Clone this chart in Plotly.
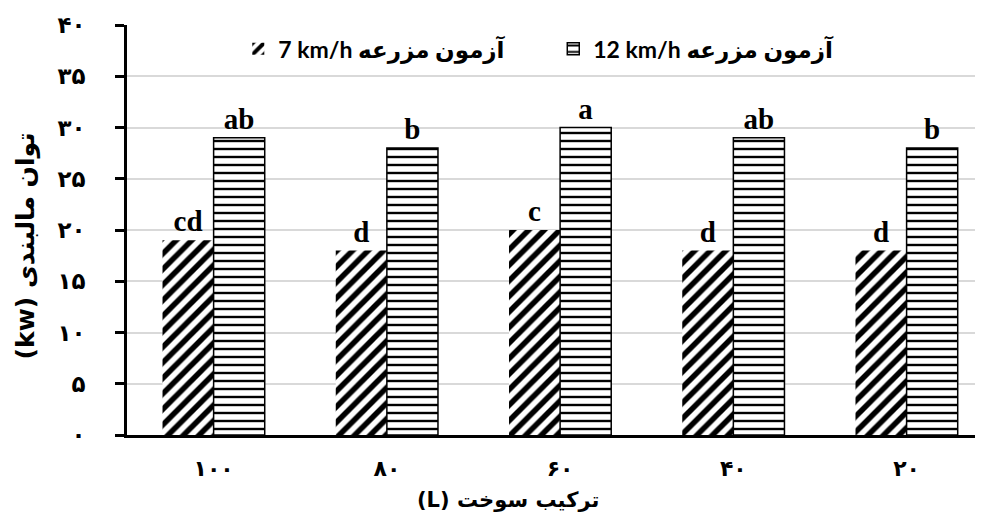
import plotly.graph_objects as go

categories = ["۱۰۰", "۸۰", "۶۰", "۴۰", "۲۰"]
values_7 = [19, 18, 20, 18, 18]
values_12 = [29, 28, 30, 29, 28]
letters_7 = ["cd", "d", "c", "d", "d"]
letters_12 = ["ab", "b", "a", "ab", "b"]
y_ticks = [0, 5, 10, 15, 20, 25, 30, 35, 40]
y_tick_labels = ["۰", "۵", "۱۰", "۱۵", "۲۰", "۲۵", "۳۰", "۳۵", "۴۰"]
name_7 = "7 km/h آزمون مزرعه"
name_12 = "12 km/h آزمون مزرعه"
x_title = "(L) ترکیب سوخت"
y_title = "(kw) توان مالبندی"

AR_FONT = "DejaVu Sans, Noto Sans, sans-serif"
LETTER_FONT = dict(family="Liberation Serif, serif", size=29, color="black", weight="bold")

fig = go.Figure()
fig.add_trace(go.Bar(
    x=categories, y=values_7, name=name_7,
    text=letters_7, textposition="outside", textfont=LETTER_FONT,
    cliponaxis=False, constraintext="none",
    marker=dict(color="white", line=dict(width=0),
                pattern=dict(shape="/", fgcolor="black", bgcolor="white", fgopacity=1,
                             size=11, solidity=0.5)),
))
fig.add_trace(go.Bar(
    x=categories, y=values_12, name=name_12,
    text=letters_12, textposition="outside", textfont=LETTER_FONT,
    cliponaxis=False, constraintext="none",
    marker=dict(color="white", line=dict(width=1.5, color="black"),
                pattern=dict(shape="-", fgcolor="black", bgcolor="white", fgopacity=1,
                             size=8, solidity=0.3)),
))

fig.update_layout(
    width=975, height=513,
    margin=dict(l=119, r=0, t=17, b=86),
    paper_bgcolor="white", plot_bgcolor="white",
    barmode="group", bargap=0.41, bargroupgap=0,
    showlegend=True,
    legend=dict(orientation="h", x=0.13, y=0.942, xanchor="left", yanchor="middle",
                font=dict(family="Lato, " + AR_FONT, size=23, color="black", weight="bold"),
                bgcolor="rgba(0,0,0,0)", entrywidth=270, entrywidthmode="pixels",
                traceorder="normal"),
    xaxis=dict(
        type="category", range=[-0.5, 4.441],
        showline=True, linecolor="black", linewidth=3,
        ticks="", showgrid=False,
        tickfont=dict(family=AR_FONT, size=22, color="black", weight="bold"),
        ticklabelstandoff=12,
    ),
    yaxis=dict(
        range=[0, 40], tickvals=y_ticks, ticktext=y_tick_labels,
        showline=True, linecolor="black", linewidth=2.5,
        ticks="outside", ticklen=9, tickwidth=2.5, tickcolor="black",
        showgrid=True, gridcolor="#d9d9d9", gridwidth=1.5, zeroline=False,
        tickfont=dict(family=AR_FONT, size=23, color="black", weight="bold"),
        ticklabelstandoff=25,
    ),
    annotations=[
        dict(text=x_title, xref="paper", yref="paper", x=0.445, y=0,
             xanchor="center", yanchor="middle", yshift=-65, showarrow=False,
             font=dict(family=AR_FONT, size=21, color="black", weight="bold")),
        dict(text=y_title, xref="paper", yref="paper", x=0, y=0.46,
             xanchor="center", yanchor="middle", xshift=-101, textangle=-90,
             showarrow=False,
             font=dict(family=AR_FONT, size=25, color="black", weight="bold")),
    ],
)

fig.write_html("out.html")
